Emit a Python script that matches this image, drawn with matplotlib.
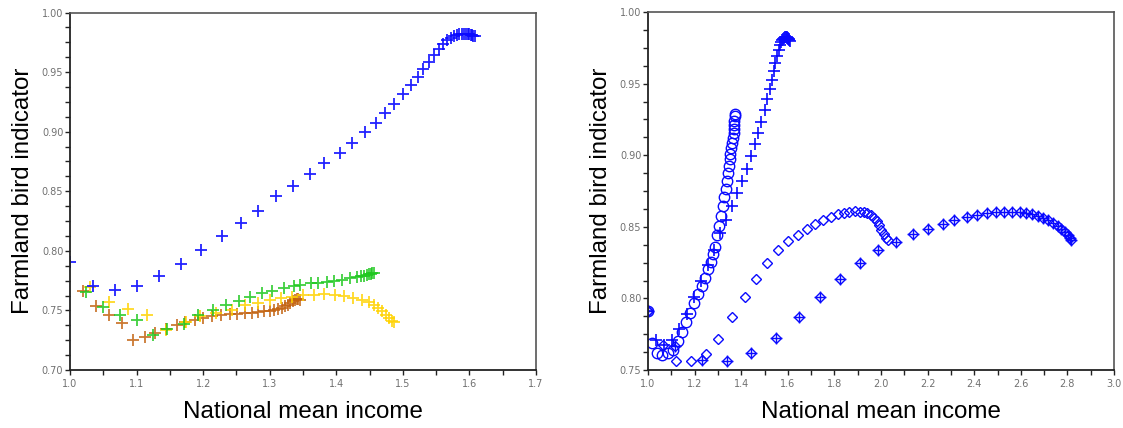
import matplotlib
matplotlib.use("Agg")
import matplotlib.pyplot as plt
from matplotlib.ticker import MultipleLocator, FormatStrFormatter

# ---- Left panel: four regions, indicator vs income ----
blue_x = [1.000, 1.034, 1.0675, 1.101, 1.133, 1.166, 1.197, 1.228, 1.257, 1.283,
          1.309, 1.335, 1.360, 1.382, 1.405, 1.424, 1.443, 1.459, 1.473, 1.487,
          1.500, 1.512, 1.522, 1.531, 1.539, 1.547, 1.554, 1.561, 1.567, 1.572,
          1.577, 1.581, 1.585, 1.589, 1.592, 1.595, 1.598, 1.600, 1.602, 1.604,
          1.606, 1.608]
blue_y = [0.791, 0.7707, 0.7673, 0.7707, 0.7785, 0.7889, 0.8009, 0.8121, 0.8234, 0.8337,
          0.8458, 0.8548, 0.8646, 0.8733, 0.8822, 0.8906, 0.8996, 0.9075, 0.9153, 0.9229,
          0.9313, 0.9389, 0.9461, 0.9523, 0.9585, 0.9641, 0.9691, 0.9733, 0.9770, 0.9790,
          0.9803, 0.9812, 0.9818, 0.9822, 0.9823, 0.9822, 0.9820, 0.9816, 0.9812, 0.9808,
          0.9804, 0.9800]

green_x = [1.024, 1.050, 1.075, 1.100, 1.124, 1.145, 1.171, 1.193, 1.2155, 1.2346,
           1.254, 1.271, 1.288, 1.304, 1.322, 1.336, 1.346, 1.362, 1.373, 1.386,
           1.397, 1.4085, 1.420, 1.431, 1.437, 1.442, 1.446, 1.449, 1.452, 1.454, 1.456]
green_y = [0.7658, 0.7532, 0.7462, 0.742, 0.7294, 0.7342, 0.7387, 0.7462, 0.7504, 0.7546,
           0.7582, 0.7611, 0.765, 0.7666, 0.7687, 0.7706, 0.7712, 0.7729, 0.7734, 0.7742,
           0.775, 0.7756, 0.777, 0.7779, 0.7785, 0.7792, 0.7798, 0.7803, 0.7808, 0.7812, 0.7815]

yellow_x = [1.030, 1.059, 1.0877, 1.115, 1.144, 1.174, 1.1955, 1.220, 1.243, 1.263,
            1.283, 1.301, 1.317, 1.333, 1.350, 1.366, 1.382, 1.398, 1.412, 1.425,
            1.438, 1.449, 1.457, 1.463, 1.469, 1.474, 1.479, 1.483, 1.486]
yellow_y = [0.7695, 0.7574, 0.751, 0.7462, 0.7336, 0.7406, 0.7454, 0.748, 0.7504, 0.7546,
            0.756, 0.7588, 0.7608, 0.7616, 0.7631, 0.7631, 0.7636, 0.7631, 0.7625, 0.7608,
            0.7589, 0.7569, 0.7547, 0.7519, 0.7491, 0.7463, 0.7435, 0.7415, 0.7405]

brown_x = [1.020, 1.039, 1.059, 1.078, 1.094, 1.113, 1.128, 1.144, 1.160, 1.173,
           1.188, 1.200, 1.214, 1.227, 1.240, 1.251, 1.263, 1.273, 1.282, 1.291,
           1.300, 1.307, 1.313, 1.319, 1.323, 1.327, 1.331, 1.335, 1.338, 1.341,
           1.343, 1.345]
brown_y = [0.7659, 0.7538, 0.7463, 0.7398, 0.7252, 0.7275, 0.7314, 0.7342, 0.7378, 0.7401,
           0.7420, 0.7435, 0.7449, 0.746, 0.7468, 0.7474, 0.7477, 0.7482, 0.7488, 0.7491,
           0.7496, 0.7505, 0.751, 0.7519, 0.7533, 0.7547, 0.7561, 0.7575, 0.7589, 0.7600,
           0.7595, 0.7585]

# ---- Right panel: one region under four scenarios ----
circle_x = [1.000, 1.017, 1.039, 1.062, 1.084, 1.106, 1.130, 1.147, 1.165, 1.182,
            1.199, 1.214, 1.230, 1.245, 1.259, 1.270, 1.279, 1.288, 1.297, 1.305,
            1.313, 1.320, 1.328, 1.333, 1.339, 1.344, 1.348, 1.351, 1.354, 1.357,
            1.361, 1.364, 1.367, 1.368, 1.370, 1.371, 1.373, 1.374]
circle_y = [0.791, 0.769, 0.7616, 0.7607, 0.7622, 0.7642, 0.7704, 0.7765, 0.7832, 0.790,
            0.797, 0.8028, 0.8086, 0.8144, 0.8202, 0.8256, 0.8307, 0.8358, 0.844, 0.8505,
            0.8574, 0.8644, 0.8707, 0.8767, 0.8819, 0.8877, 0.8923, 0.897, 0.9009, 0.9051,
            0.9086, 0.9121, 0.9156, 0.9184, 0.9214, 0.9242, 0.9272, 0.929]

diamond_x = [1.000, 1.063, 1.120, 1.185, 1.247, 1.302, 1.361, 1.416, 1.464, 1.510,
             1.559, 1.602, 1.644, 1.683, 1.718, 1.752, 1.784, 1.814, 1.840, 1.864,
             1.888, 1.908, 1.926, 1.942, 1.957, 1.969, 1.982, 1.992, 2.002, 2.011,
             2.020, 2.030]
diamond_y = [0.791, 0.7672, 0.7565, 0.756, 0.7614, 0.7719, 0.7867, 0.8012, 0.8137, 0.8244,
             0.8335, 0.84, 0.8442, 0.8486, 0.8521, 0.8547, 0.8567, 0.8586, 0.8598, 0.8605,
             0.8607, 0.8605, 0.8602, 0.8595, 0.8581, 0.8563, 0.854, 0.8512, 0.8481, 0.8451,
             0.8423, 0.8405]

crossdiamond_x = [1.000, 1.118, 1.230, 1.337, 1.444, 1.548, 1.649, 1.740, 1.826, 1.911,
                  1.988, 2.065, 2.137, 2.202, 2.265, 2.314, 2.368, 2.411, 2.453, 2.492,
                  2.530, 2.564, 2.596, 2.622, 2.650, 2.673, 2.696, 2.718, 2.738, 2.758,
                  2.773, 2.789, 2.801, 2.810, 2.815]
crossdiamond_y = [0.791, 0.7671, 0.7571, 0.7561, 0.7617, 0.7725, 0.787, 0.8012, 0.8137, 0.8244,
                  0.8335, 0.8395, 0.8447, 0.8488, 0.8521, 0.8547, 0.8567, 0.8579, 0.8593, 0.8602,
                  0.8605, 0.8602, 0.86, 0.8595, 0.8586, 0.8574, 0.856, 0.8544, 0.8528, 0.8509,
                  0.8488, 0.8465, 0.8442, 0.8419, 0.8405]

BLUE = "#0a0aff"
GREEN = "#1ec81e"
YELLOW = "#ffd200"
BROWN = "#c2620f"

fig = plt.figure(figsize=(11.23, 4.28), dpi=100)
ax1 = fig.add_axes([70 / 1123, 58 / 428, 466 / 1123, 357.5 / 428])
ax2 = fig.add_axes([648 / 1123, 58 / 428, 466 / 1123, 358 / 428])


def style_axes(ax, xlim, ylim, xmaj, xmin, ymaj, ymin, xfmt):
    ax.set_xlim(*xlim)
    ax.set_ylim(*ylim)
    ax.xaxis.set_major_locator(MultipleLocator(xmaj))
    ax.xaxis.set_minor_locator(MultipleLocator(xmin))
    ax.yaxis.set_major_locator(MultipleLocator(ymaj))
    ax.yaxis.set_minor_locator(MultipleLocator(ymin))
    ax.xaxis.set_major_formatter(FormatStrFormatter(xfmt))
    ax.yaxis.set_major_formatter(FormatStrFormatter("%.2f"))
    ax.tick_params(which="both", direction="out", length=3.6, width=1.0,
                   color="#222222", top=False, right=False)
    ax.tick_params(axis="x", which="major", pad=3, labelsize=7, labelcolor="#707070")
    ax.tick_params(axis="y", which="major", pad=1.2, labelsize=7, labelcolor="#707070")
    for side in ("left", "bottom"):
        ax.spines[side].set_color("#222222")
        ax.spines[side].set_linewidth(1.3)
    for side in ("top", "right"):
        ax.spines[side].set_color("#555555")
        ax.spines[side].set_linewidth(1.2)
    for lab in ax.get_xticklabels() + ax.get_yticklabels():
        lab.set_family("DejaVu Sans")
    ax.set_xlabel("National mean income", fontsize=17.4, family="Liberation Sans")
    ax.set_ylabel("Farmland bird indicator", fontsize=17.4, family="Liberation Sans")
    ax.xaxis.set_label_coords(0.5, -0.087)
    ax.yaxis.set_label_coords(-0.077, 0.5)


style_axes(ax1, (1.0, 1.7), (0.70, 1.00), 0.1, 0.05, 0.05, 0.0125, "%.1f")
style_axes(ax2, (1.0, 3.0), (0.75, 1.00), 0.2, 0.1, 0.05, 0.0125, "%.1f")

plus_kw = dict(linestyle="none", marker="+", markersize=9, markeredgewidth=1.3)
ax1.plot(brown_x, brown_y, color=BROWN, alpha=0.85, **plus_kw)
ax1.plot(yellow_x, yellow_y, color=YELLOW, alpha=0.85, **plus_kw)
ax1.plot(green_x, green_y, color=GREEN, alpha=0.85, **plus_kw)
ax1.plot(blue_x, blue_y, color=BLUE, alpha=0.9, **plus_kw)

ax2.plot(circle_x, circle_y, linestyle="none", marker="o", markersize=7.5,
         markerfacecolor="none", markeredgecolor=BLUE, markeredgewidth=1.0)
ax2.plot(blue_x, blue_y, color=BLUE, linestyle="none", marker="+",
         markersize=9, markeredgewidth=1.2)
ax2.plot(diamond_x, diamond_y, linestyle="none", marker="D", markersize=5.5,
         markerfacecolor="none", markeredgecolor=BLUE, markeredgewidth=1.0)
ax2.plot(crossdiamond_x, crossdiamond_y, linestyle="none", marker="D", markersize=5.5,
         markerfacecolor="none", markeredgecolor=BLUE, markeredgewidth=1.0)
ax2.plot(crossdiamond_x, crossdiamond_y, color=BLUE, linestyle="none", marker="+",
         markersize=8, markeredgewidth=1.0)

fig.savefig("out.png", dpi=100)
